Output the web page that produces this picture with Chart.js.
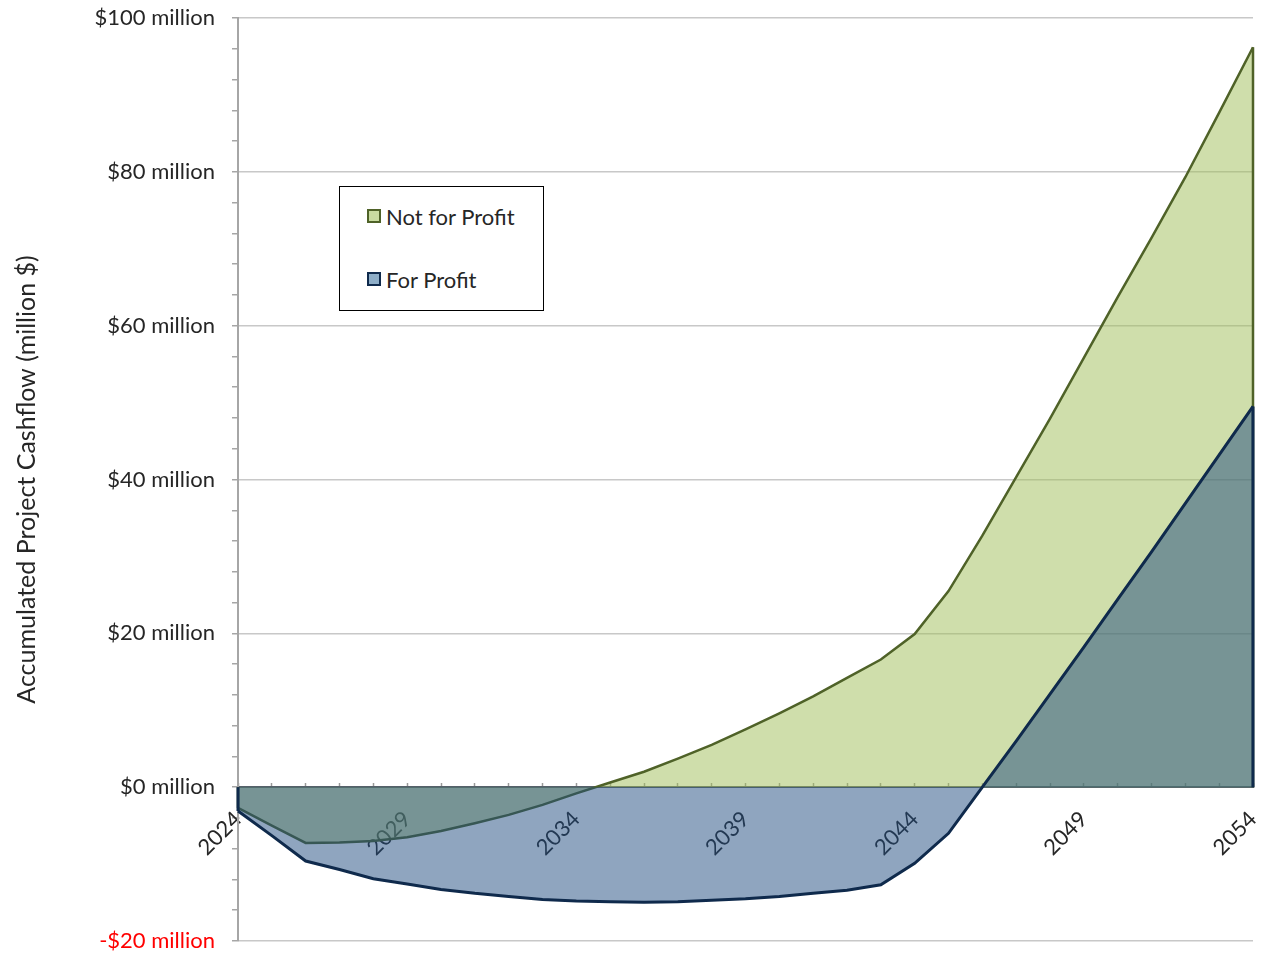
<!DOCTYPE html>
<html>
<head>
<meta charset="utf-8">
<script src="https://cdn.jsdelivr.net/npm/chart.js@4.4.1/dist/chart.umd.min.js"></script>
<style>
html, body { margin: 0; padding: 0; background: #ffffff; }
#wrap { position: relative; width: 1262px; height: 955px; }
#legend { position: absolute; left: 339px; top: 186px; width: 203px; height: 123px;
  border: 1.5px solid #000; background: #fff; font-family: Lato, "Open Sans", sans-serif;
  font-size: 22px; color: #262626; }
.item { position: absolute; left: 27px; height: 26px; display: flex; align-items: center; white-space: nowrap; }
.sw { width: 10px; height: 10px; border: 2.5px solid; margin-right: 5px; }
</style>
</head>
<body>
<div id="wrap">
  <canvas id="c" width="1262" height="955"></canvas>
  <div id="legend"></div>
</div>
<script>
// ---- data ----
const years = ['2024','2025','2026','2027','2028','2029','2030','2031','2032','2033','2034',
  '2035','2036','2037','2038','2039','2040','2041','2042','2043','2044',
  '2045','2046','2047','2048','2049','2050','2051','2052','2053','2054'];
const labeledYears = ['2024','2029','2034','2039','2044','2049','2054'];

const seriesNames = ['Not for Profit', 'For Profit'];

// accumulated cashflow, million $
const notForProfit = [-2.7, -5.0, -7.25, -7.2, -7.0, -6.5, -5.7, -4.7, -3.6, -2.3, -0.8,
  0.6, 2.0, 3.7, 5.5, 7.5, 9.6, 11.8, 14.2, 16.6, 19.9,
  25.5, 32.7, 40.3, 47.9, 55.8, 63.7, 71.4, 79.3, 87.7, 96.2];
const forProfit = [-3.1, -6.3, -9.6, -10.7, -11.9, -12.6, -13.3, -13.8, -14.2, -14.6, -14.8,
  -14.9, -14.95, -14.9, -14.7, -14.5, -14.2, -13.8, -13.4, -12.7, -9.9,
  -6.0, 0.0, 6.0, 12.1, 18.2, 24.4, 30.6, 36.9, 43.2, 49.5];

const yTickValues = [-20, 0, 20, 40, 60, 80, 100];
const yTickLabels = ['-$20 million', '$0 million', '$20 million', '$40 million', '$60 million', '$80 million', '$100 million'];

// ---- styles ----
const FONT = 'Lato, "Open Sans", sans-serif';
const lineColors = ['#4f6228', '#0f2a4c'];
const fillColors = ['rgba(159,189,87,0.5)', 'rgba(31,75,127,0.5)'];
const swatchFill = ['#c9dba0', '#8eaec8'];

// draws the closing vertical edges of each area (first/last point down to zero)
const edgePlugin = {
  id: 'areaEdges',
  afterDatasetDraw(chart, args) {
    const meta = args.meta;
    const ds = chart.data.datasets[args.index];
    const y = chart.scales.y;
    const ctx = chart.ctx;
    const zero = y.getPixelForValue(0);
    const pts = meta.data;
    ctx.save();
    ctx.strokeStyle = ds.borderColor;
    ctx.lineWidth = ds.borderWidth;
    [pts[0], pts[pts.length - 1]].forEach(p => {
      ctx.beginPath();
      ctx.moveTo(p.x, p.y);
      ctx.lineTo(p.x, zero);
      ctx.stroke();
    });
    ctx.restore();
  }
};

const chart = new Chart(document.getElementById('c'), {
  type: 'line',
  data: {
    labels: years,
    datasets: [
      { label: seriesNames[0], data: notForProfit, order: 1, fill: 'origin',
        borderColor: lineColors[0], backgroundColor: fillColors[0], borderWidth: 2.5,
        pointRadius: 0, tension: 0 },
      { label: seriesNames[1], data: forProfit, order: 0, fill: 'origin',
        borderColor: lineColors[1], backgroundColor: fillColors[1], borderWidth: 3,
        pointRadius: 0, tension: 0 }
    ]
  },
  options: {
    responsive: false,
    animation: false,
    layout: { padding: { left: 0, top: 18, right: 9, bottom: 14 } },
    plugins: { legend: { display: false }, tooltip: { enabled: false } },
    scales: {
      x: {
        type: 'category',
        position: { y: 0 },
        offset: false,
        z: 1,
        afterFit: s => { s.paddingLeft = 0; s.paddingRight = 0; },
        grid: { display: true, drawOnChartArea: false, drawTicks: true, tickLength: -5,
                tickColor: '#9a9a9a', tickWidth: 1.5 },
        border: { display: true, color: '#56606a', width: 2 },
        ticks: {
          autoSkip: false, maxRotation: 45, minRotation: 45, padding: 24,
          color: '#262626', font: { family: FONT, size: 22 },
          callback: (v, i) => labeledYears.includes(years[i]) ? years[i] : ''
        }
      },
      y: {
        min: -20, max: 100,
        afterFit: s => { s.width = 238; s.paddingTop = 0; s.paddingBottom = 0; },
        ticks: {
          stepSize: 4, padding: 17, font: { family: FONT, size: 22 },
          color: ctx => ctx.tick && ctx.tick.value < 0 ? '#ff0000' : '#262626',
          callback: v => { const k = yTickValues.indexOf(v); return k >= 0 ? yTickLabels[k] : ''; }
        },
        grid: {
          color: ctx => (ctx.tick && yTickValues.includes(ctx.tick.value)) ? '#c8c8c8' : 'rgba(0,0,0,0)',
          lineWidth: 1.5, drawTicks: true, tickLength: 6, tickColor: '#a6a6a6', tickWidth: 1.5
        },
        border: { display: true, color: '#a6a6a6', width: 2 },
        title: { display: true, text: 'Accumulated Project Cashflow (million $)', color: '#262626',
                 font: { family: FONT, size: 25 }, padding: { top: 12, bottom: 0 } }
      }
    }
  },
  plugins: [edgePlugin]
});

// legend built from the chart's datasets
const lg = document.getElementById('legend');
const legendTops = [16, 79];
chart.data.datasets.forEach((ds, i) => {
  const it = document.createElement('div');
  it.className = 'item';
  it.style.top = legendTops[i] + 'px';
  const sw = document.createElement('span');
  sw.className = 'sw';
  sw.style.borderColor = ds.borderColor;
  sw.style.background = swatchFill[i];
  const tx = document.createElement('span');
  tx.textContent = ds.label;
  it.appendChild(sw); it.appendChild(tx);
  lg.appendChild(it);
});
</script>
</body>
</html>
